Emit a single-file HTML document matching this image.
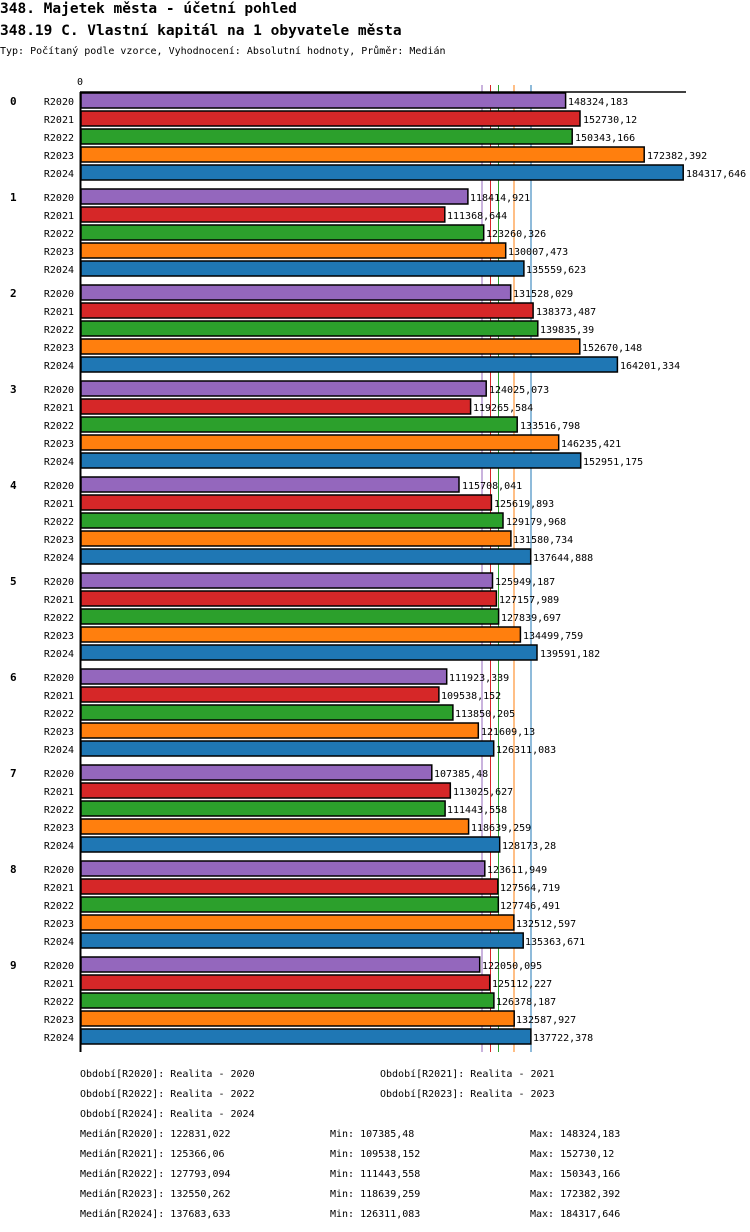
<!DOCTYPE html>
<html><head><meta charset="utf-8"><style>
body{margin:0;background:#fff;width:750px;height:1232px;overflow:hidden}
svg{display:block}
text{font-family:"DejaVu Sans Mono","Liberation Mono",monospace;font-size:10px;fill:#000}
.t{font-size:14.5px;font-weight:bold}
.g{font-weight:bold;font-size:11px}
.r{text-anchor:end}
rect{stroke:#000;stroke-width:1.5}
</style></head><body>
<svg width="750" height="1232" xmlns="http://www.w3.org/2000/svg">
<text class="t" x="0" y="13">348. Majetek města - účetní pohled</text>
<text class="t" x="0" y="35">348.19 C. Vlastní kapitál na 1 obyvatele města</text>
<text x="0" y="54">Typ: Počítaný podle vzorce, Vyhodnocení: Absolutní hodnoty, Průměr: Medián</text>
<text x="77" y="85">0</text>
<g stroke-width="1">
<line x1="482" y1="85" x2="482" y2="1052" stroke="#9467bd"/>
<line x1="490.5" y1="85" x2="490.5" y2="1052" stroke="#d62728"/>
<line x1="498.5" y1="85" x2="498.5" y2="1052" stroke="#2ca02c"/>
<line x1="514" y1="85" x2="514" y2="1052" stroke="#ff7f0e"/>
<line x1="531" y1="85" x2="531" y2="1052" stroke="#1f77b4"/>
</g>
<line x1="80" y1="92" x2="686" y2="92" stroke="#000" stroke-width="1.5"/>
<line x1="80.5" y1="92" x2="80.5" y2="1052" stroke="#000" stroke-width="2"/>

<!-- group 0 -->
<text class="g" x="10" y="105">0</text>
<text class="r" x="74" y="105">R2020</text><rect x="81" y="93" width="484.6" height="15" fill="#9467bd"/><text x="568" y="105">148324,183</text>
<text class="r" x="74" y="123">R2021</text><rect x="81" y="111" width="499.0" height="15" fill="#d62728"/><text x="583" y="123">152730,12</text>
<text class="r" x="74" y="141">R2022</text><rect x="81" y="129" width="491.2" height="15" fill="#2ca02c"/><text x="575" y="141">150343,166</text>
<text class="r" x="74" y="159">R2023</text><rect x="81" y="147" width="563.2" height="15" fill="#ff7f0e"/><text x="647" y="159">172382,392</text>
<text class="r" x="74" y="177">R2024</text><rect x="81" y="165" width="602.2" height="15" fill="#1f77b4"/><text x="686" y="177">184317,646</text>
<!-- group 1 -->
<text class="g" x="10" y="201">1</text>
<text class="r" x="74" y="201">R2020</text><rect x="81" y="189" width="386.9" height="15" fill="#9467bd"/><text x="470" y="201">118414,921</text>
<text class="r" x="74" y="219">R2021</text><rect x="81" y="207" width="363.8" height="15" fill="#d62728"/><text x="447" y="219">111368,644</text>
<text class="r" x="74" y="237">R2022</text><rect x="81" y="225" width="402.7" height="15" fill="#2ca02c"/><text x="486" y="237">123260,326</text>
<text class="r" x="74" y="255">R2023</text><rect x="81" y="243" width="424.7" height="15" fill="#ff7f0e"/><text x="508" y="255">130007,473</text>
<text class="r" x="74" y="273">R2024</text><rect x="81" y="261" width="442.9" height="15" fill="#1f77b4"/><text x="526" y="273">135559,623</text>
<!-- group 2 -->
<text class="g" x="10" y="297">2</text>
<text class="r" x="74" y="297">R2020</text><rect x="81" y="285" width="429.7" height="15" fill="#9467bd"/><text x="513" y="297">131528,029</text>
<text class="r" x="74" y="315">R2021</text><rect x="81" y="303" width="452.1" height="15" fill="#d62728"/><text x="536" y="315">138373,487</text>
<text class="r" x="74" y="333">R2022</text><rect x="81" y="321" width="456.8" height="15" fill="#2ca02c"/><text x="540" y="333">139835,39</text>
<text class="r" x="74" y="351">R2023</text><rect x="81" y="339" width="498.8" height="15" fill="#ff7f0e"/><text x="582" y="351">152670,148</text>
<text class="r" x="74" y="369">R2024</text><rect x="81" y="357" width="536.4" height="15" fill="#1f77b4"/><text x="620" y="369">164201,334</text>
<!-- group 3 -->
<text class="g" x="10" y="393">3</text>
<text class="r" x="74" y="393">R2020</text><rect x="81" y="381" width="405.2" height="15" fill="#9467bd"/><text x="489" y="393">124025,073</text>
<text class="r" x="74" y="411">R2021</text><rect x="81" y="399" width="389.6" height="15" fill="#d62728"/><text x="473" y="411">119265,584</text>
<text class="r" x="74" y="429">R2022</text><rect x="81" y="417" width="436.2" height="15" fill="#2ca02c"/><text x="520" y="429">133516,798</text>
<text class="r" x="74" y="447">R2023</text><rect x="81" y="435" width="477.7" height="15" fill="#ff7f0e"/><text x="561" y="447">146235,421</text>
<text class="r" x="74" y="465">R2024</text><rect x="81" y="453" width="499.7" height="15" fill="#1f77b4"/><text x="583" y="465">152951,175</text>
<!-- group 4 -->
<text class="g" x="10" y="489">4</text>
<text class="r" x="74" y="489">R2020</text><rect x="81" y="477" width="378.0" height="15" fill="#9467bd"/><text x="462" y="489">115708,041</text>
<text class="r" x="74" y="507">R2021</text><rect x="81" y="495" width="410.4" height="15" fill="#d62728"/><text x="494" y="507">125619,893</text>
<text class="r" x="74" y="525">R2022</text><rect x="81" y="513" width="422.0" height="15" fill="#2ca02c"/><text x="506" y="525">129179,968</text>
<text class="r" x="74" y="543">R2023</text><rect x="81" y="531" width="429.9" height="15" fill="#ff7f0e"/><text x="513" y="543">131580,734</text>
<text class="r" x="74" y="561">R2024</text><rect x="81" y="549" width="449.7" height="15" fill="#1f77b4"/><text x="533" y="561">137644,888</text>
<!-- group 5 -->
<text class="g" x="10" y="585">5</text>
<text class="r" x="74" y="585">R2020</text><rect x="81" y="573" width="411.5" height="15" fill="#9467bd"/><text x="495" y="585">125949,187</text>
<text class="r" x="74" y="603">R2021</text><rect x="81" y="591" width="415.4" height="15" fill="#d62728"/><text x="499" y="603">127157,989</text>
<text class="r" x="74" y="621">R2022</text><rect x="81" y="609" width="417.6" height="15" fill="#2ca02c"/><text x="501" y="621">127839,697</text>
<text class="r" x="74" y="639">R2023</text><rect x="81" y="627" width="439.4" height="15" fill="#ff7f0e"/><text x="523" y="639">134499,759</text>
<text class="r" x="74" y="657">R2024</text><rect x="81" y="645" width="456.0" height="15" fill="#1f77b4"/><text x="540" y="657">139591,182</text>
<!-- group 6 -->
<text class="g" x="10" y="681">6</text>
<text class="r" x="74" y="681">R2020</text><rect x="81" y="669" width="365.7" height="15" fill="#9467bd"/><text x="449" y="681">111923,339</text>
<text class="r" x="74" y="699">R2021</text><rect x="81" y="687" width="357.9" height="15" fill="#d62728"/><text x="441" y="699">109538,152</text>
<text class="r" x="74" y="717">R2022</text><rect x="81" y="705" width="371.9" height="15" fill="#2ca02c"/><text x="455" y="717">113850,205</text>
<text class="r" x="74" y="735">R2023</text><rect x="81" y="723" width="397.3" height="15" fill="#ff7f0e"/><text x="481" y="735">121609,13</text>
<text class="r" x="74" y="753">R2024</text><rect x="81" y="741" width="412.7" height="15" fill="#1f77b4"/><text x="496" y="753">126311,083</text>
<!-- group 7 -->
<text class="g" x="10" y="777">7</text>
<text class="r" x="74" y="777">R2020</text><rect x="81" y="765" width="350.8" height="15" fill="#9467bd"/><text x="434" y="777">107385,48</text>
<text class="r" x="74" y="795">R2021</text><rect x="81" y="783" width="369.3" height="15" fill="#d62728"/><text x="453" y="795">113025,627</text>
<text class="r" x="74" y="813">R2022</text><rect x="81" y="801" width="364.1" height="15" fill="#2ca02c"/><text x="447" y="813">111443,558</text>
<text class="r" x="74" y="831">R2023</text><rect x="81" y="819" width="387.6" height="15" fill="#ff7f0e"/><text x="471" y="831">118639,259</text>
<text class="r" x="74" y="849">R2024</text><rect x="81" y="837" width="418.7" height="15" fill="#1f77b4"/><text x="502" y="849">128173,28</text>
<!-- group 8 -->
<text class="g" x="10" y="873">8</text>
<text class="r" x="74" y="873">R2020</text><rect x="81" y="861" width="403.8" height="15" fill="#9467bd"/><text x="487" y="873">123611,949</text>
<text class="r" x="74" y="891">R2021</text><rect x="81" y="879" width="416.8" height="15" fill="#d62728"/><text x="500" y="891">127564,719</text>
<text class="r" x="74" y="909">R2022</text><rect x="81" y="897" width="417.3" height="15" fill="#2ca02c"/><text x="500" y="909">127746,491</text>
<text class="r" x="74" y="927">R2023</text><rect x="81" y="915" width="432.9" height="15" fill="#ff7f0e"/><text x="516" y="927">132512,597</text>
<text class="r" x="74" y="945">R2024</text><rect x="81" y="933" width="442.2" height="15" fill="#1f77b4"/><text x="525" y="945">135363,671</text>
<!-- group 9 -->
<text class="g" x="10" y="969">9</text>
<text class="r" x="74" y="969">R2020</text><rect x="81" y="957" width="398.7" height="15" fill="#9467bd"/><text x="482" y="969">122050,095</text>
<text class="r" x="74" y="987">R2021</text><rect x="81" y="975" width="408.7" height="15" fill="#d62728"/><text x="492" y="987">125112,227</text>
<text class="r" x="74" y="1005">R2022</text><rect x="81" y="993" width="412.9" height="15" fill="#2ca02c"/><text x="496" y="1005">126378,187</text>
<text class="r" x="74" y="1023">R2023</text><rect x="81" y="1011" width="433.2" height="15" fill="#ff7f0e"/><text x="516" y="1023">132587,927</text>
<text class="r" x="74" y="1041">R2024</text><rect x="81" y="1029" width="449.9" height="15" fill="#1f77b4"/><text x="533" y="1041">137722,378</text>

<text x="80" y="1077">Období[R2020]: Realita - 2020</text>
<text x="380" y="1077">Období[R2021]: Realita - 2021</text>
<text x="80" y="1097">Období[R2022]: Realita - 2022</text>
<text x="380" y="1097">Období[R2023]: Realita - 2023</text>
<text x="80" y="1117">Období[R2024]: Realita - 2024</text>
<text x="80" y="1137">Medián[R2020]: 122831,022</text><text x="330" y="1137">Min: 107385,48</text><text x="530" y="1137">Max: 148324,183</text>
<text x="80" y="1157">Medián[R2021]: 125366,06</text><text x="330" y="1157">Min: 109538,152</text><text x="530" y="1157">Max: 152730,12</text>
<text x="80" y="1177">Medián[R2022]: 127793,094</text><text x="330" y="1177">Min: 111443,558</text><text x="530" y="1177">Max: 150343,166</text>
<text x="80" y="1197">Medián[R2023]: 132550,262</text><text x="330" y="1197">Min: 118639,259</text><text x="530" y="1197">Max: 172382,392</text>
<text x="80" y="1217">Medián[R2024]: 137683,633</text><text x="330" y="1217">Min: 126311,083</text><text x="530" y="1217">Max: 184317,646</text>
</svg>
</body></html>
